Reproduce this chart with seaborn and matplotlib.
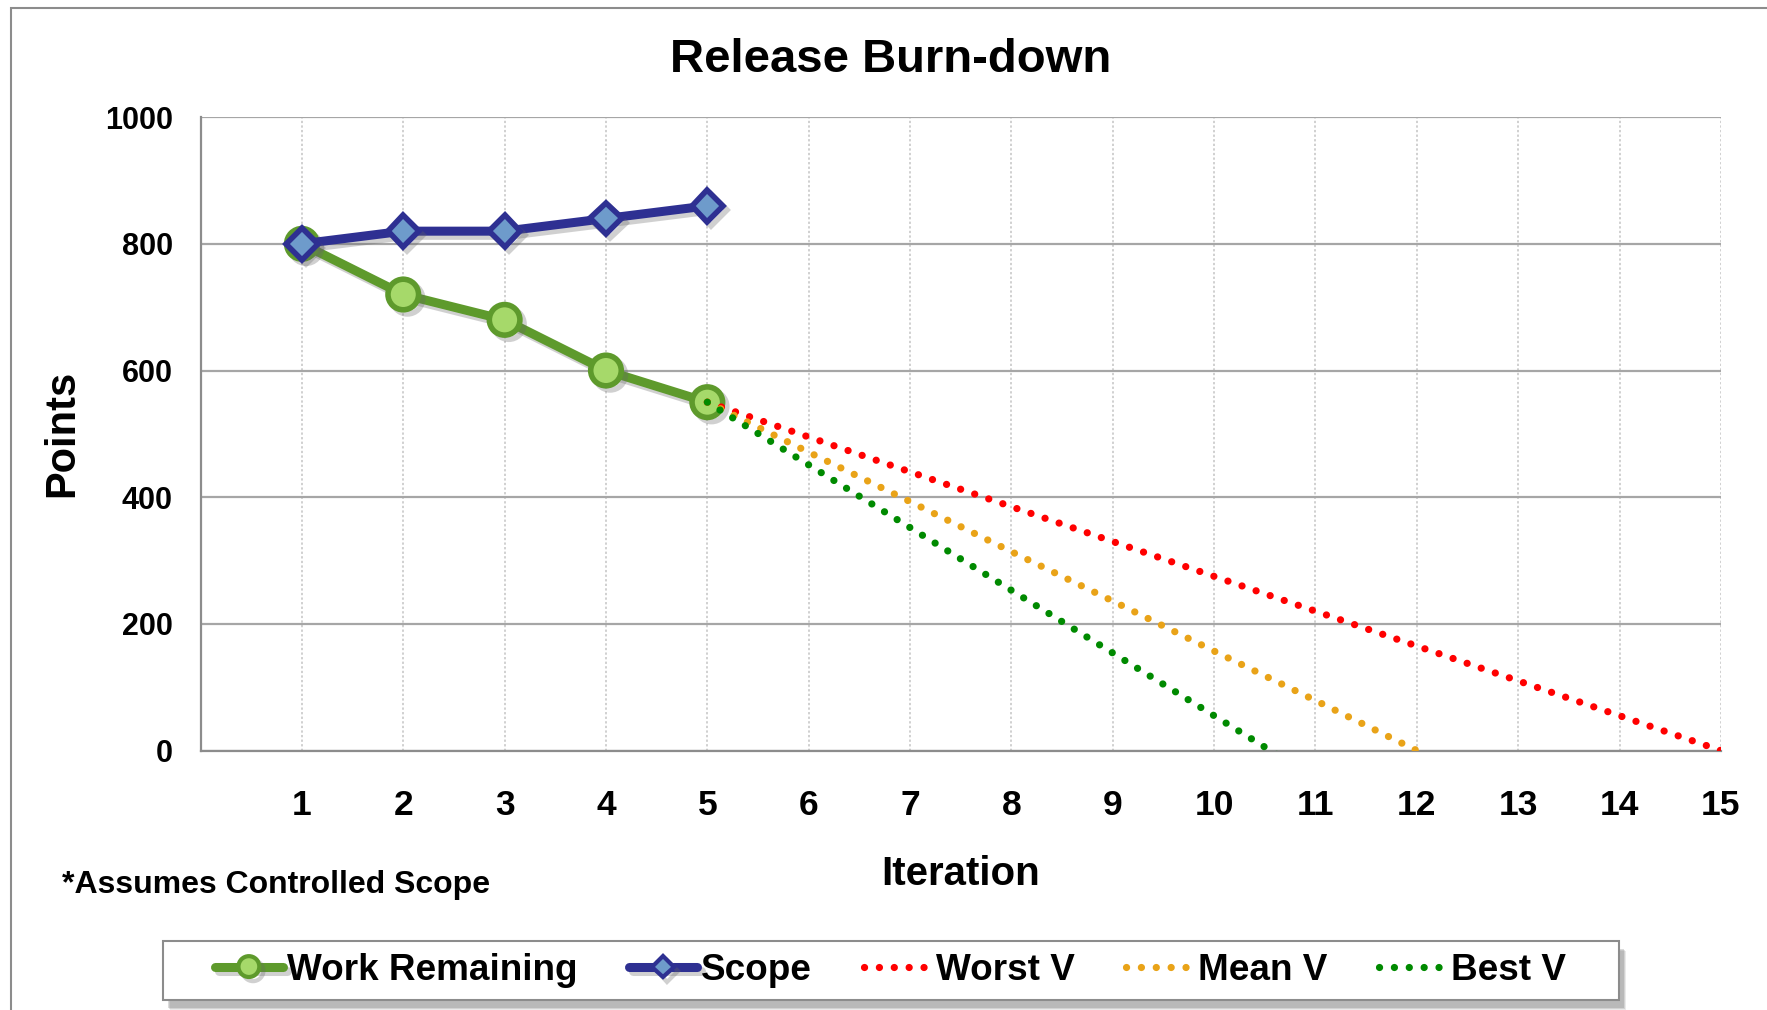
import matplotlib

matplotlib.use("Agg")
import matplotlib.patheffects as pe
import matplotlib.pyplot as plt
import pandas as pd
import seaborn as sns
from matplotlib.patches import Rectangle

# iterations done so far
done_iter = [1, 2, 3, 4, 5]
work_remaining = [800, 720, 680, 600, 550]
scope = [800, 820, 820, 840, 860]

# projections from iteration 5
worst_iter = [5, 6, 7, 8, 9, 10, 11, 12, 13, 14, 15]
worst_v = [550, 495, 440, 385, 330, 275, 220, 165, 110, 55, 0]
mean_iter = [5, 6, 7, 8, 9, 10, 11, 12]
mean_v = [550, 471, 393, 314, 236, 157, 79, 0]
best_iter = [5, 6, 7, 8, 9, 10, 11]
best_v = [550, 451, 352, 253, 154, 55, -44]

x_ticks = list(range(1, 16))
y_ticks = [0, 200, 400, 600, 800, 1000]

GREEN = "#5E9A2C"
GREEN_FACE = "#A6D96A"
NAVY = "#2E3092"
BLUE_FACE = "#6E9BCB"
FRAME = "#8C8C8C"

sns.set_style("white")
plt.rcParams["font.family"] = ["Liberation Sans", "DejaVu Sans"]
plt.rcParams["font.weight"] = "bold"
for key in ["text.color", "axes.labelcolor", "xtick.labelcolor", "ytick.labelcolor"]:
    plt.rcParams[key] = "black"

fig = plt.figure(figsize=(17.67, 10.10), dpi=100)
ax = fig.add_axes([0.1135, 0.2569, 0.8604, 0.6271])

shadow = [pe.SimpleLineShadow(offset=(3, -3), shadow_color="0.4", alpha=0.3), pe.Normal()]

solid = pd.DataFrame({"iteration": done_iter, "work": work_remaining, "scope": scope})
sns.lineplot(data=solid, x="iteration", y="work", ax=ax, color=GREEN, linewidth=6.5,
             marker="o", markersize=22, markerfacecolor=GREEN_FACE, markeredgecolor=GREEN,
             markeredgewidth=4, label="Work Remaining", path_effects=shadow, zorder=3)
sns.lineplot(data=solid, x="iteration", y="scope", ax=ax, color=NAVY, linewidth=6.5,
             marker="D", markersize=16, markerfacecolor=BLUE_FACE, markeredgecolor=NAVY,
             markeredgewidth=4, label="Scope", path_effects=shadow, zorder=4)

dots = (0, (0.01, 2.05))
for xs, ys, col, name in [
    (worst_iter, worst_v, "#FF0000", "Worst V"),
    (mean_iter, mean_v, "#E9A318", "Mean V"),
    (best_iter, best_v, "#008A00", "Best V"),
]:
    sns.lineplot(x=xs, y=ys, ax=ax, color=col, linewidth=5.2, linestyle=dots,
                 dash_capstyle="round", label=name, zorder=5)

ax.set_xlim(0, 15)
ax.set_ylim(0, 1000)
ax.set_xticks(x_ticks)
ax.set_yticks(y_ticks)
ax.xaxis.grid(True, color="#C4C4C4", linestyle=(0, (1.5, 1.5)), linewidth=1.1)
ax.yaxis.grid(True, color="#A6A6A6", linestyle="-", linewidth=1.6)
ax.set_axisbelow(True)
for side in ["top", "right"]:
    ax.spines[side].set_visible(False)
for side in ["left", "bottom"]:
    ax.spines[side].set_color(FRAME)
    ax.spines[side].set_linewidth(1.6)

ax.tick_params(axis="x", length=0, pad=28, labelsize=25.5)
ax.tick_params(axis="y", length=6, width=1.2, color=FRAME, direction="out", pad=14, labelsize=22)

ax.set_xlabel("Iteration", fontsize=29, fontweight="bold")
ax.set_ylabel("Points", fontsize=30, fontweight="bold")
ax.xaxis.set_label_coords(0.5, -0.165)
ax.yaxis.set_label_coords(-0.078, 0.5)

fig.suptitle("Release Burn-down", x=0.504, y=0.941, va="center", fontsize=34, fontweight="bold")
fig.text(0.035, 0.124, "*Assumes Controlled Scope", fontsize=23, fontweight="bold", va="center")

handles, labels = ax.get_legend_handles_labels()
if ax.get_legend() is not None:
    ax.get_legend().remove()
leg = fig.legend(handles, labels, loc="center", bbox_to_anchor=(0.504, 0.0396), ncol=5,
                 fontsize=26.6, frameon=False, handlelength=1.85,
                 handletextpad=0.1, columnspacing=1.4, borderpad=0.35)
for t in leg.get_texts():
    t.set_fontweight("bold")
for h in leg.legend_handles:
    if h.get_marker() == "o":
        h.set_markersize(15)
        h.set_markeredgewidth(3)
    elif h.get_marker() == "D":
        h.set_markersize(11)
        h.set_markeredgewidth(3)

# legend box with soft drop shadow
lx, ly, lw, lh = 163 / 1767, 1 - 1000 / 1010, (1619 - 163) / 1767, 59 / 1010
for i, a in enumerate([0.25, 0.2, 0.15]):
    fig.patches.append(Rectangle((lx + (5 + i) / 1767, ly - (8 + i) / 1010), lw, lh,
                                 transform=fig.transFigure, facecolor="0.45", alpha=a,
                                 edgecolor="none", zorder=1))
fig.patches.append(Rectangle((lx, ly), lw, lh, transform=fig.transFigure, facecolor="white",
                             edgecolor=FRAME, linewidth=1.5, zorder=2))

fig.patches.append(Rectangle((0.0062, -0.05), 1.1, 0.992 + 0.05, transform=fig.transFigure,
                             fill=False, edgecolor=FRAME, linewidth=1.5))

fig.savefig("out.png", dpi=100)
